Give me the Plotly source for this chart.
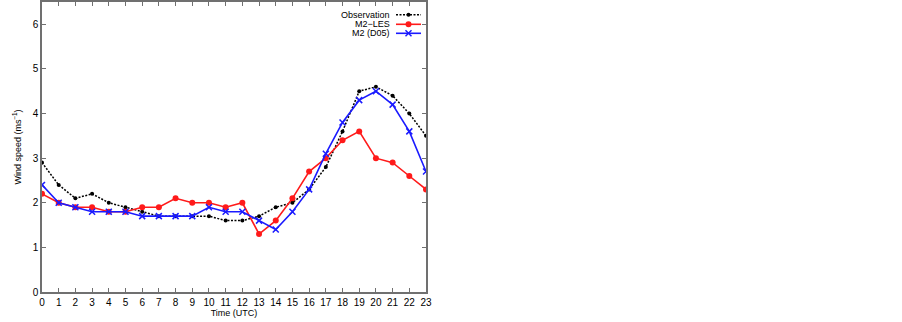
import plotly.graph_objects as go

hours = list(range(24))
observation = [2.9, 2.4, 2.1, 2.2, 2.0, 1.9, 1.8, 1.7, 1.7, 1.7, 1.7, 1.6,
               1.6, 1.7, 1.9, 2.0, 2.3, 2.8, 3.6, 4.5, 4.6, 4.4, 4.0, 3.5]
m2_les = [2.2, 2.0, 1.9, 1.9, 1.8, 1.8, 1.9, 1.9, 2.1, 2.0, 2.0, 1.9,
          2.0, 1.3, 1.6, 2.1, 2.7, 3.0, 3.4, 3.6, 3.0, 2.9, 2.6, 2.3]
m2_d05 = [2.4, 2.0, 1.9, 1.8, 1.8, 1.8, 1.7, 1.7, 1.7, 1.7, 1.9, 1.8,
          1.8, 1.6, 1.4, 1.8, 2.3, 3.1, 3.8, 4.3, 4.5, 4.2, 3.6, 2.7]
series_names = ["Observation", "M2\u2212LES", "M2 (D05)"]
x_ticks = list(range(24))
y_ticks = [0, 1, 2, 3, 4, 5, 6]

FONT = "Liberation Sans, Arial, sans-serif"
W, H = 902, 322
ML, MR, MT, MB = 42, 476, 2, 30
PW, PH = W - ML - MR, H - MT - MB

styles = [
    dict(color="black", dash="2px,1.5px", width=1.5, symbol="circle", msize=4),
    dict(color="#ff1a1a", dash="solid", width=1.6, symbol="circle", msize=6),
    dict(color="#1a1aff", dash="solid", width=1.6, symbol="x-thin", msize=6),
]
values = [observation, m2_les, m2_d05]

fig = go.Figure()
for name, vals, st in zip(series_names, values, styles):
    marker = dict(symbol=st["symbol"], size=st["msize"], color=st["color"])
    if st["symbol"] == "x-thin":
        marker["line"] = dict(color=st["color"], width=1.5)
    fig.add_trace(go.Scatter(
        x=hours, y=vals, name=name, mode="lines+markers", showlegend=False,
        line=dict(color=st["color"], width=st["width"], dash=st["dash"]),
        marker=marker))

axis_common = dict(
    showline=True, linecolor="#707070", linewidth=1.5, mirror="ticks",
    ticks="inside", ticklen=4, tickcolor="#707070", tickwidth=1,
    showgrid=False, zeroline=False,
    tickfont=dict(family=FONT, size=10, color="black"),
)

fig.update_xaxes(range=[0, 23], tickvals=x_ticks, ticktext=[str(t) for t in x_ticks],
                 title=dict(text="Time (UTC)", standoff=3,
                            font=dict(family=FONT, size=9, color="black")),
                 **axis_common)
fig.update_yaxes(range=[0, 6.5], tickvals=y_ticks, ticktext=[str(t) for t in y_ticks],
                 title=dict(text="Wind speed (ms<sup>\u22121</sup>)", standoff=10,
                            font=dict(family=FONT, size=9, color="black")),
                 **axis_common)

# gnuplot-style key: right-aligned text followed by the line sample
shapes = []
annotations = []
px = lambda p: (p - ML) / PW
py = lambda p: (H - MB - p) / PH
row_y = [14.7, 24.3, 33.3]
text_right, s0, s1 = 392, 396, 421
mid = (s0 + s1) / 2
for name, st, ry in zip(series_names, styles, row_y):
    annotations.append(dict(
        xref="paper", yref="paper", x=px(text_right), y=py(ry),
        xanchor="right", yanchor="middle", showarrow=False, text=name,
        font=dict(family=FONT, size=9, color="black")))
    shapes.append(dict(type="line", xref="paper", yref="paper",
                       x0=px(s0), x1=px(s1), y0=py(ry), y1=py(ry),
                       line=dict(color=st["color"], width=st["width"], dash=st["dash"])))
    r = st["msize"] / 2
    if st["symbol"] == "circle":
        shapes.append(dict(type="circle", xref="paper", yref="paper",
                           x0=px(mid - r), x1=px(mid + r), y0=py(ry + r), y1=py(ry - r),
                           fillcolor=st["color"], line=dict(width=0)))
    else:
        for a, b in ((-r, r), (r, -r)):
            shapes.append(dict(type="line", xref="paper", yref="paper",
                               x0=px(mid - r), x1=px(mid + r), y0=py(ry + a), y1=py(ry + b),
                               line=dict(color=st["color"], width=1.5)))

fig.update_layout(
    width=W, height=H,
    margin=dict(l=ML, r=MR, t=MT, b=MB, autoexpand=False),
    paper_bgcolor="white", plot_bgcolor="white",
    showlegend=False,
    shapes=shapes, annotations=annotations,
)

fig.write_html("out.html", config={"displayModeBar": False},
               post_script="document.body.style.margin='0px';")
